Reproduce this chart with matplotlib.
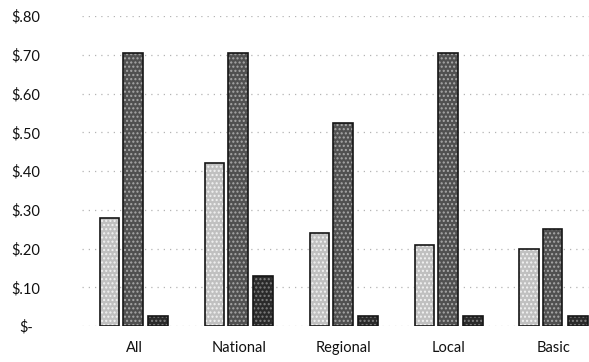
import numpy as np
import matplotlib
matplotlib.use('Agg')
import matplotlib.pyplot as plt

plt.rcParams['font.family'] = ['Lato', 'DejaVu Sans']

# cost per unit for each segment, three series per group
categories = ['All', 'National', 'Regional', 'Local', 'Basic']
series_a = [0.28, 0.42, 0.24, 0.21, 0.20]
series_b = [0.705, 0.705, 0.525, 0.705, 0.25]
series_c = [0.025, 0.13, 0.025, 0.025, 0.025]
y_ticks = [0, 0.1, 0.2, 0.3, 0.4, 0.5, 0.6, 0.7, 0.8]
y_labels = ['$-', '$.10', '$.20', '$.30', '$.40', '$.50', '$.60', '$.70', '$.80']

fig = plt.figure(figsize=(5.89, 3.62), dpi=100)
# axes runs a bit past the right edge so the last group sits at the border
ax = fig.add_axes([0.1384, 0.0994, 0.891, 0.8564])

x = np.arange(len(categories))
w = 0.185
offsets = [-0.235, -0.01, 0.23]
fills = ['#c0c0c0', '#505050', '#2a2a2a']
specks = ['#f2f2f2', '#a8a8a8', '#808080']

for vals, off, fc, sc in zip([series_a, series_b, series_c], offsets, fills, specks):
    # speckled fill first, then a plain outline on top
    ax.bar(x + off, vals, w, color=fc, edgecolor=sc, hatch='....', linewidth=0, zorder=3)
    ax.bar(x + off, vals, w, fill=False, edgecolor='#151515', linewidth=1.2, zorder=4)

ax.set_xlim(-0.5, len(categories) - 0.5)
ax.set_ylim(0, 0.8)
ax.set_yticks(y_ticks)
ax.set_yticklabels(y_labels, ha='center')
ax.set_xticks(x)
ax.set_xticklabels(categories)
ax.tick_params(axis='y', length=0, pad=40, labelsize=10.5, labelcolor='#111111')
ax.tick_params(axis='x', length=0, pad=11, labelsize=10.5, labelcolor='#111111')

ax.grid(axis='y', color='#b4b4b4', linewidth=0.9, linestyle=(0, (1, 4)), zorder=0)
ax.set_axisbelow(True)
for s in ax.spines.values():
    s.set_visible(False)

fig.savefig('out.png', dpi=100)
